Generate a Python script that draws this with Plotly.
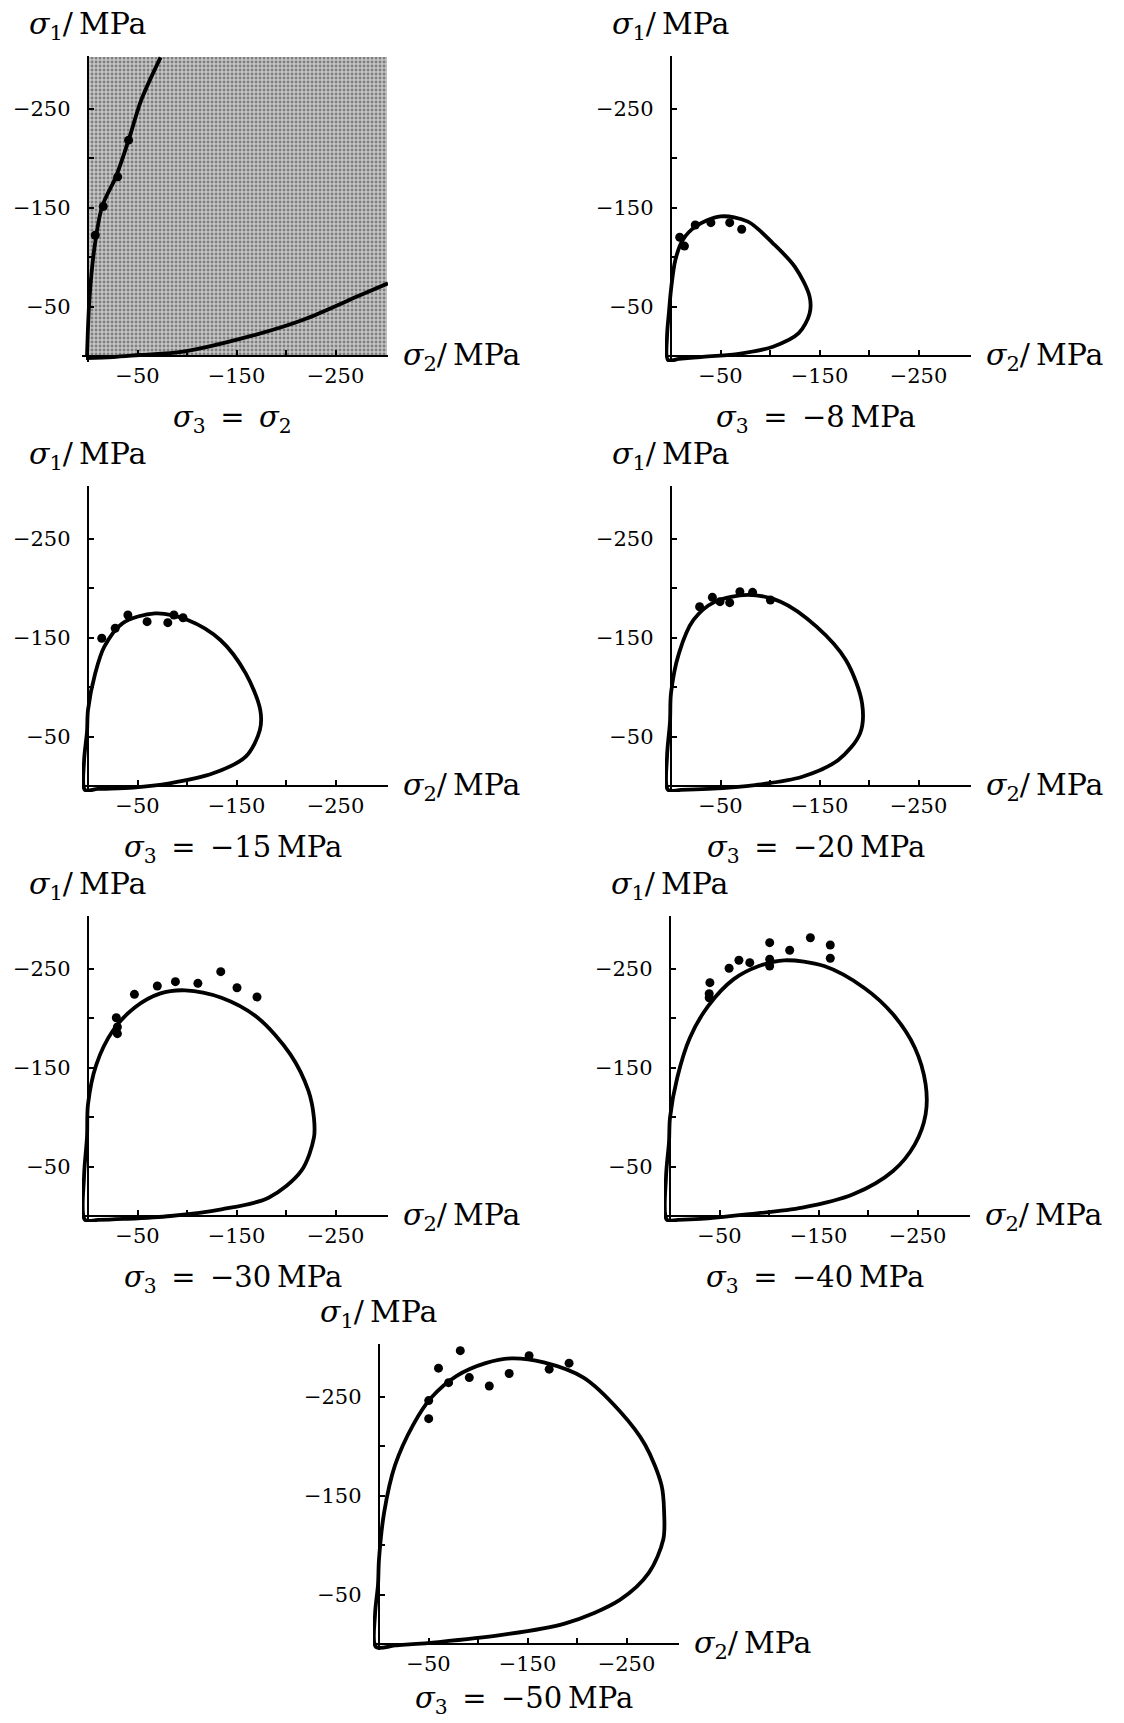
import plotly.graph_objects as go

# ---------------- data (MPa, compressive = negative) ----------------
# Panel 1: sigma3 = sigma2
p1_upper_x = [1, -1.4, -6.2, -14.3, -28.2, -41.0, -53.8, -73.3]
p1_upper_y = [0, -56.6, -107, -151, -181, -218, -258.6, -301.7]
p1_lower_x = [2, -25, -52, -96, -162, -216.8, -271.8, -303]
p1_lower_y = [2, 1, -1, -4.4, -19.5, -36.4, -60, -73.4]
p1_pts_x = [-7.3, -15.4, -30.0, -41.0]
p1_pts_y = [-122, -151, -181, -218]

# Panel 2: sigma3 = -8 MPa
p2_env_x = [0, -4.4, -11.7, -24.5, -50, -77.7, -103, -125, -140, -140, -129, -103, -66.7, -30, -8, 3, 4, 2, 0]
p2_env_y = [-67, -97, -117, -130.6, -141, -135.7, -113.8, -90.2, -60, -43, -23, -9.4, -2, 1, 3, 4, -20, -45, -67]
p2_pts_x = [-8.8, -13.6, -24.5, -40.3, -59.3, -71.4]
p2_pts_y = [-119.9, -111, -132.3, -134.7, -134.7, -128]

# Panel 3: sigma3 = -15 MPa
p3_env_x = [0, -7.3, -16.5, -34.8, -67.8, -100.7, -133.7, -159.3, -174, -173.6, -159.3, -126.4, -82.4, -45.8, -10, 3, 4, 1, 0]
p3_env_y = [-76.8, -113.8, -140.7, -164.3, -174.4, -167.7, -147.5, -113.8, -76.8, -56.6, -29.6, -12.8, -2.7, 1.6, 3, 4, -25, -55, -76.8]
p3_pts_x = [-13.9, -27.5, -40.3, -59.7, -80.6, -86.8, -96.0]
p3_pts_y = [-149.2, -159.3, -172.7, -166, -165, -172.7, -170]

# Panel 4: sigma3 = -20 MPa
p4_env_x = [0, -8, -22.7, -44.7, -77.7, -110.7, -147, -176.6, -193, -191, -169, -132.6, -85, -37.4, -10, 3, 4, 1, 0]
p4_env_y = [-93.6, -134, -167.7, -186.2, -193, -186.2, -161, -127.3, -83.5, -53.2, -26.3, -9.4, -1, 3, 4, 4, -30, -65, -93.6]
p4_pts_x = [-28.9, -41.8, -49.5, -59.3, -69.6, -82.4, -100.4]
p4_pts_y = [-181.1, -190.6, -186.2, -185.2, -196.3, -195.6, -187.9]

# Panel 5: sigma3 = -30 MPa
p5_env_x = [0, -8.4, -24.9, -46.9, -72.5, -98.1, -134.8, -171.4, -204.4, -222.7, -228.2, -228.2, -215.4, -182.4, -134.8, -83.5, -35.9, -10, 3, 4, 1, 0]
p5_env_y = [-112.8, -153, -186.9, -210.4, -224.6, -228, -220.5, -200.3, -163.3, -126.3, -99.3, -79.1, -45.5, -18.5, -6.7, 0, 3, 4, 4, -40, -80, -112.8]
p5_pts_x = [-28.6, -29.7, -29.7, -46.9, -70.0, -88.3, -111.0, -134.1, -150.5, -170.7]
p5_pts_y = [-200.3, -190.9, -184.2, -223.9, -232.3, -236.7, -235, -246.8, -230.6, -221.2]

# Panel 6: sigma3 = -40 MPa
p6_env_x = [0, -7.3, -20.1, -38.5, -64.1, -89.8, -115.4, -155.7, -195.9, -225.3, -247.3, -258.2, -258.2, -247.3, -225.3, -185, -133.7, -75, -31, -8, 3, 4, 1, 0]
p6_env_y = [-99.3, -139.7, -180.1, -212.1, -239, -252.5, -258.3, -252.5, -230.6, -203.7, -170, -133, -102.7, -72.4, -45.5, -21.9, -8.4, -1.3, 3, 4, 4, -40, -75, -99.3]
p6_pts_x = [-40.3, -39.6, -39.6, -59.7, -69.6, -80.6, -100.7, -100.7, -100.7, -120.9, -141.8, -161.9, -161.9]
p6_pts_y = [-235.7, -224.6, -220.5, -250.2, -258.3, -255.9, -276.1, -259.3, -252.5, -268.4, -281.1, -273.7, -260.3]

# Panel 7: sigma3 = -50 MPa
p7_env_x = [0, -5.2, -16.2, -34.5, -52.7, -78.5, -107.7, -133.4, -166.4, -206.6, -243.3, -268.9, -285.4, -288, -287.2, -272.5, -243.3, -188.3, -122.4, -60.1, -16.2, 3, 4, 1, 0]
p7_env_y = [-85.4, -133, -180.6, -221.4, -248.7, -270.8, -283.7, -288.5, -284.4, -269, -235, -201, -160.2, -133, -105.8, -71.8, -44.6, -20.8, -8.9, -2, 1.5, 3, -30, -60, -85.4]
p7_pts_x = [-50.2, -50.2, -60.1, -70.3, -82.1, -91.2, -111.4, -131.5, -151.6, -171.9, -192.0]
p7_pts_y = [-245.9, -227.6, -278.6, -264, -296.3, -269.1, -260.6, -273.2, -291.2, -277.6, -283.7]

major_tick_vals = [-50, -150, -250]
major_tick_text = ["−50", "−150", "−250"]
minor_tick_vals = [-100, -200]

captions = [
    "<i>σ</i><sub>3</sub>\u2002=\u2002<i>σ</i><sub>2</sub>",
    "<i>σ</i><sub>3</sub>\u2002=\u2002−8\u2009MPa",
    "<i>σ</i><sub>3</sub>\u2002=\u2002−15\u2009MPa",
    "<i>σ</i><sub>3</sub>\u2002=\u2002−20\u2009MPa",
    "<i>σ</i><sub>3</sub>\u2002=\u2002−30\u2009MPa",
    "<i>σ</i><sub>3</sub>\u2002=\u2002−40\u2009MPa",
    "<i>σ</i><sub>3</sub>\u2002=\u2002−50\u2009MPa",
]
y_title = "<i>σ</i><sub>1</sub>/\u2009MPa"
x_title = "<i>σ</i><sub>2</sub>/\u2009MPa"

# ---------------- layout constants ----------------
W, H = 1124, 1723
S = 0.99                  # pixels per MPa
R_POS, R_NEG = 6, -303    # axis range in MPa
SHADE_MAX = -302          # extent of the shaded region in panel 1
ORIGINS = [(88, 356), (671, 356), (88, 786), (671, 786), (88, 1216), (670, 1216), (379, 1644)]
CAPTION_GAP = [63, 63, 63, 63, 63, 63, 56]
FONT = "DejaVu Serif"

fig = go.Figure()

panels = [
    ([(p1_upper_x, p1_upper_y), (p1_lower_x, p1_lower_y)], (p1_pts_x, p1_pts_y)),
    ([(p2_env_x, p2_env_y)], (p2_pts_x, p2_pts_y)),
    ([(p3_env_x, p3_env_y)], (p3_pts_x, p3_pts_y)),
    ([(p4_env_x, p4_env_y)], (p4_pts_x, p4_pts_y)),
    ([(p5_env_x, p5_env_y)], (p5_pts_x, p5_pts_y)),
    ([(p6_env_x, p6_env_y)], (p6_pts_x, p6_pts_y)),
    ([(p7_env_x, p7_env_y)], (p7_pts_x, p7_pts_y)),
]

annotations = []
layout_axes = {}
for i, (curves, pts) in enumerate(panels):
    k = i + 1
    xr = "x" if k == 1 else f"x{k}"
    yr = "y" if k == 1 else f"y{k}"
    xname = "xaxis" if k == 1 else f"xaxis{k}"
    yname = "yaxis" if k == 1 else f"yaxis{k}"
    ox, oy = ORIGINS[i]
    left = ox - R_POS * S
    right = ox - R_NEG * S
    bottom = oy + R_POS * S
    top = oy + R_NEG * S

    if k == 1:
        fig.add_trace(go.Scatter(
            x=[0, SHADE_MAX, SHADE_MAX, 0, 0], y=[0, 0, SHADE_MAX, SHADE_MAX, 0],
            xaxis=xr, yaxis=yr, mode="lines", line=dict(width=0),
            fill="toself", fillcolor="#b0b0b0",
            fillpattern=dict(shape=".", bgcolor="#c6c6c6", fgcolor="#333333", size=4, solidity=0.4),
            hoverinfo="skip", showlegend=False))

    for cx, cy in curves:
        fig.add_trace(go.Scatter(
            x=cx, y=cy, xaxis=xr, yaxis=yr, mode="lines",
            line=dict(color="black", width=3.8, shape="spline", smoothing=0.9),
            showlegend=False, hoverinfo="skip"))
    fig.add_trace(go.Scatter(
        x=pts[0], y=pts[1], xaxis=xr, yaxis=yr, mode="markers",
        marker=dict(color="black", size=9), showlegend=False, cliponaxis=False))

    common = dict(
        range=[R_POS, R_NEG], showgrid=False, zeroline=False,
        showline=True, linecolor="black", linewidth=2.4,
        ticks="inside", ticklen=5, tickwidth=1.6, tickcolor="black",
        tickmode="array", tickvals=major_tick_vals, ticktext=major_tick_text,
        minor=dict(tickmode="array", tickvals=minor_tick_vals, ticks="inside",
                   ticklen=5, tickwidth=1.6, tickcolor="black", showgrid=False),
        tickfont=dict(family=FONT, size=21, color="black"),
        anchor="free", fixedrange=True,
    )
    layout_axes[xname] = dict(common, domain=[left / W, right / W], position=1 - oy / H,
                              side="bottom", ticklabelstandoff=1)
    layout_axes[yname] = dict(common, domain=[1 - bottom / H, 1 - top / H], position=ox / W,
                              side="left", ticklabelstandoff=12)

    annotations.append(dict(
        text=y_title, xref="paper", yref="paper",
        x=(ox - 61) / W, y=1 - (top - 31) / H, xanchor="left", yanchor="middle",
        showarrow=False, font=dict(family=FONT, size=30, color="black")))
    annotations.append(dict(
        text=x_title, xref="paper", yref="paper",
        x=(right + 13) / W, y=1 - oy / H, xanchor="left", yanchor="middle",
        showarrow=False, font=dict(family=FONT, size=30, color="black")))
    annotations.append(dict(
        text=captions[i], xref="paper", yref="paper",
        x=(ox + 146 * S) / W, y=1 - (oy + CAPTION_GAP[i]) / H, xanchor="center", yanchor="middle",
        showarrow=False, font=dict(family=FONT, size=29, color="black")))

fig.update_layout(
    width=W, height=H, margin=dict(l=0, r=0, t=0, b=0),
    paper_bgcolor="white", plot_bgcolor="rgba(0,0,0,0)",
    showlegend=False, annotations=annotations, **layout_axes)

fig.write_html("out.html", config={"displayModeBar": False},
               post_script="document.body.style.margin='0';document.body.style.overflow='hidden';")
